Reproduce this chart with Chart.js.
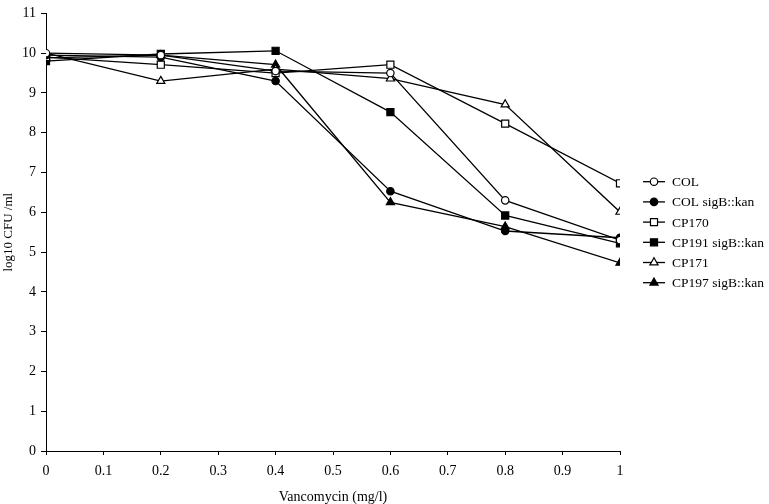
<!DOCTYPE html>
<html lang="en">

<head>
    <meta charset="UTF-8">
    <title>Vancomycin</title>
    <script src="https://cdn.jsdelivr.net/npm/chart.js"></script>
    <style>
        body { margin: 0; background: #fff; }
    </style>
</head>

<body>
    <canvas id="vancoChart" width="769" height="504"></canvas>
    <script>
        // vancomycin concentrations (mg/l)
        const doses = [0, 0.2, 0.4, 0.6, 0.8, 1];
        const strainNames = ['COL', 'COL sigB::kan', 'CP170', 'CP191 sigB::kan', 'CP171', 'CP197 sigB::kan'];

        // log10 CFU/ml per strain
        const col = [10.0, 9.95, 9.55, 9.5, 6.3, 5.3];
        const colSigB = [9.95, 9.9, 9.3, 6.53, 5.53, 5.36];
        const cp170 = [9.9, 9.71, 9.5, 9.71, 8.23, 6.73];
        const cp191SigB = [9.8, 9.98, 10.06, 8.52, 5.92, 5.22];
        const cp171 = [10.0, 9.3, 9.6, 9.36, 8.71, 6.01];
        const cp197SigB = [9.88, 9.95, 9.71, 6.25, 5.64, 4.73];

        const xTicks = [0, 0.1, 0.2, 0.3, 0.4, 0.5, 0.6, 0.7, 0.8, 0.9, 1];
        const yTicks = [0, 1, 2, 3, 4, 5, 6, 7, 8, 9, 10, 11];

        const series = [col, colSigB, cp170, cp191SigB, cp171, cp197SigB];
        const markers = [
            { style: 'circle', fill: '#fff', r: 3.7 },
            { style: 'circle', fill: '#000', r: 3.7 },
            { style: 'rect', fill: '#fff', r: 5 },
            { style: 'rect', fill: '#000', r: 5 },
            { style: 'triangle', fill: '#fff', r: 4.7 },
            { style: 'triangle', fill: '#000', r: 4.7 }
        ];

        const serif = 'Liberation Serif, Times New Roman, serif';

        const datasets = series.map((vals, i) => ({
            label: strainNames[i],
            data: vals.map((v, j) => ({ x: doses[j], y: v })),
            borderColor: '#000',
            borderWidth: 1.3,
            backgroundColor: markers[i].fill,
            pointStyle: markers[i].style,
            pointRadius: markers[i].r,
            pointBackgroundColor: markers[i].fill,
            pointBorderColor: '#000',
            pointBorderWidth: 1.2,
            tension: 0
        }));

        // legend with a short line through each marker, like the original
        const lineLegend = {
            id: 'lineLegend',
            afterDraw(chart) {
                const ctx = chart.ctx;
                const area = chart.chartArea;
                const x0 = area.right + 23;
                const step = 20.2;
                const yMid = (area.top + area.bottom) / 2;
                const y0 = yMid - step * 2.5;
                ctx.save();
                ctx.font = '13.5px ' + serif;
                ctx.textBaseline = 'middle';
                ctx.fillStyle = '#000';
                chart.data.datasets.forEach((ds, i) => {
                    const y = y0 + i * step;
                    ctx.strokeStyle = '#000';
                    ctx.lineWidth = 1.3;
                    ctx.beginPath();
                    ctx.moveTo(x0, y);
                    ctx.lineTo(x0 + 22, y);
                    ctx.stroke();
                    ctx.fillStyle = ds.pointBackgroundColor;
                    ctx.lineWidth = 1.2;
                    Chart.helpers.drawPoint(ctx, {
                        pointStyle: ds.pointStyle,
                        radius: ds.pointRadius,
                        rotation: 0,
                        borderWidth: 1.2
                    }, x0 + 11, y);
                    ctx.fillStyle = '#000';
                    ctx.fillText(ds.label, x0 + 29, y + 1);
                });
                ctx.restore();
            }
        };

        const ctx = document.getElementById('vancoChart').getContext('2d');
        new Chart(ctx, {
            type: 'line',
            data: { datasets: datasets },
            options: {
                responsive: false,
                animation: false,
                layout: { padding: { top: 7, right: 149, left: 0, bottom: 0 } },
                plugins: {
                    legend: { display: false },
                    tooltip: { enabled: false }
                },
                scales: {
                    x: {
                        type: 'linear',
                        min: 0,
                        max: 1,
                        afterBuildTicks: s => { s.ticks = xTicks.map(v => ({ value: v })); },
                        afterFit: s => { s.height = 53; },
                        ticks: {
                            color: '#000',
                            font: { family: serif, size: 14 },
                            padding: 8,
                            maxRotation: 0,
                            callback: v => String(v)
                        },
                        grid: { drawOnChartArea: false, tickLength: 4, color: '#000' },
                        border: { color: '#000', width: 1 },
                        title: {
                            display: true,
                            text: 'Vancomycin (mg/l)',
                            color: '#000',
                            font: { family: serif, size: 14 },
                            padding: { top: 0, bottom: -2 }
                        }
                    },
                    y: {
                        min: 0,
                        max: 11,
                        afterBuildTicks: s => { s.ticks = yTicks.map(v => ({ value: v })); },
                        afterFit: s => { s.width = 46; },
                        ticks: {
                            color: '#000',
                            font: { family: serif, size: 14 },
                            padding: 5
                        },
                        grid: { drawOnChartArea: false, tickLength: 5, color: '#000' },
                        border: { color: '#000', width: 1 },
                        title: {
                            display: true,
                            text: 'log10 CFU /ml',
                            color: '#000',
                            font: { family: serif, size: 13 },
                            padding: { top: 1, bottom: 0 }
                        }
                    }
                }
            },
            plugins: [lineLegend]
        });
    </script>
</body>

</html>
